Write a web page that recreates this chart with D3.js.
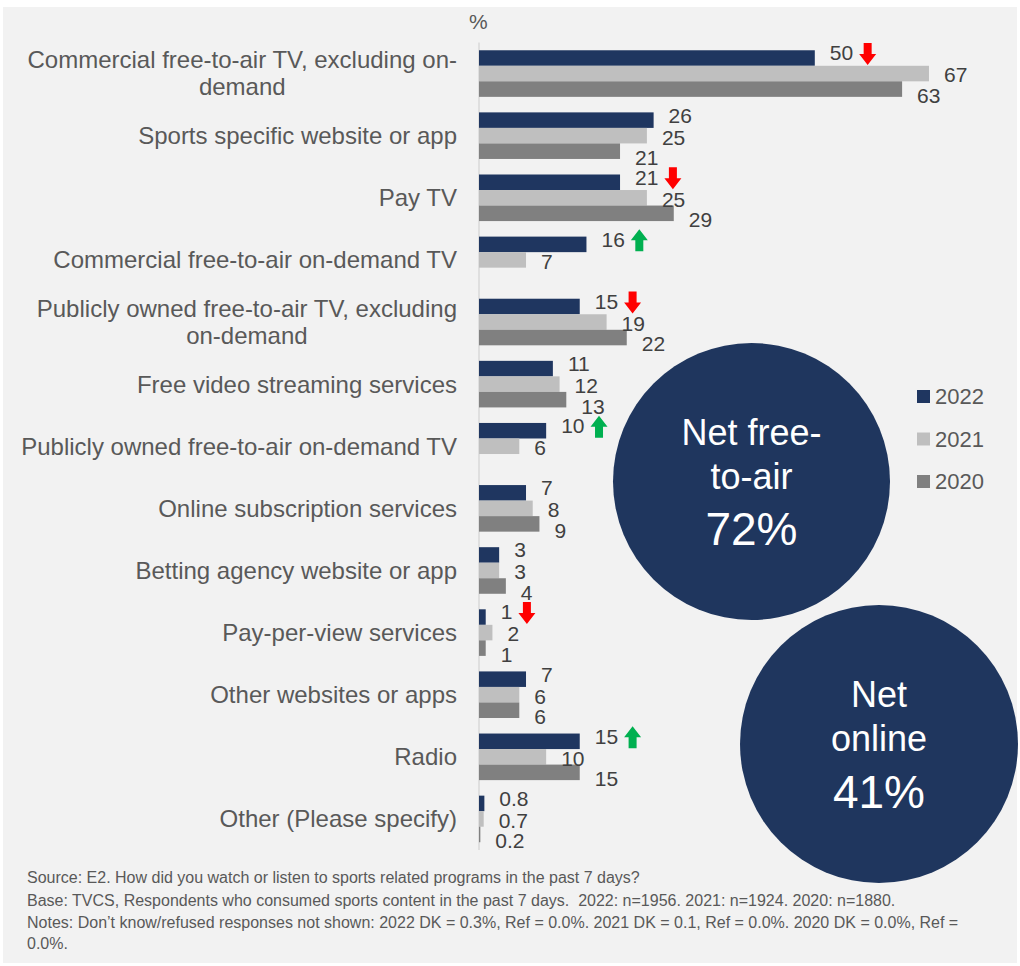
<!DOCTYPE html>
<html>
<head>
<meta charset="utf-8">
<script src="https://cdn.jsdelivr.net/npm/d3@7"></script>
<style>
  html, body { margin: 0; padding: 0; background: #ffffff; }
  svg { display: block; font-family: "Liberation Sans", Arial, sans-serif; }
  .foot { white-space: pre; }
</style>
</head>
<body>
<svg id="chart" width="1020" height="966"></svg>
<script>
const categories = [
  "Commercial free-to-air TV, excluding on-demand",
  "Sports specific website or app",
  "Pay TV",
  "Commercial free-to-air on-demand TV",
  "Publicly owned free-to-air TV, excluding on-demand",
  "Free video streaming services",
  "Publicly owned free-to-air on-demand TV",
  "Online subscription services",
  "Betting agency website or app",
  "Pay-per-view services",
  "Other websites or apps",
  "Radio",
  "Other (Please specify)"
];
const years = ["2022", "2021", "2020"];
const values2022 = [50, 26, 21, 16, 15, 11, 10, 7, 3, 1, 7, 15, 0.8];
const values2021 = [67, 25, 25, 7, 19, 12, 6, 8, 3, 2, 6, 10, 0.7];
const values2020 = [63, 21, 29, null, 22, 13, null, 9, 4, 1, 6, 15, 0.2];
const trend2022 = ["down", null, "down", "up", "down", null, "up", null, null, "down", null, "up", null];
const bubbles = [
  { lines: ["Net free-", "to-air"], value: "72%" },
  { lines: ["Net", "online"], value: "41%" }
];
const footnotes = [
  "Source: E2. How did you watch or listen to sports related programs in the past 7 days?",
  "Base: TVCS, Respondents who consumed sports content in the past 7 days.  2022: n=1956. 2021: n=1924. 2020: n=1880.",
  "Notes: Don\u2019t know/refused responses not shown: 2022 DK = 0.3%, Ref = 0.0%. 2021 DK = 0.1, Ref = 0.0%. 2020 DK = 0.0%, Ref =",
  "0.0%."
];

const seriesByYear = { "2022": values2022, "2021": values2021, "2020": values2020 };
const colors = d3.scaleOrdinal().domain(years).range(["#1f3660", "#bfbfbf", "#808080"]);

const svg = d3.select("#chart");
svg.append("rect").attr("x", 3).attr("y", 7).attr("width", 1014).attr("height", 956).attr("fill", "#f2f2f2");

const x = d3.scaleLinear().domain([0, 100]).range([479, 479 + 671.6]);
const y = d3.scaleBand().domain(categories).range([42.5, 850]).paddingInner(0.25).paddingOuter(0.125);
const ySub = d3.scaleBand().domain(years).range([0, y.bandwidth()]);

// axis line
svg.append("line").attr("x1", 479).attr("x2", 479).attr("y1", 42.5).attr("y2", 850)
  .attr("stroke", "#d9d9d9").attr("stroke-width", 1.5);

svg.append("text").attr("x", 469).attr("y", 29).attr("fill", "#595959")
  .attr("font-size", 21).text("%");

// bars
const rows = categories.map((c, i) => ({ cat: c, i }));
const groups = svg.selectAll("g.cat").data(rows).join("g").attr("class", "cat")
  .attr("transform", d => `translate(0,${y(d.cat)})`);

const labelDy = { "2022": -5, "2021": 1.5, "2020": 6.5 };

groups.each(function (row) {
  const g = d3.select(this);
  const items = years.map(yr => ({ yr, v: seriesByYear[yr][row.i] })).filter(d => d.v !== null);
  g.selectAll("rect").data(items).join("rect")
    .attr("x", x(0))
    .attr("y", d => ySub(d.yr))
    .attr("width", d => x(d.v) - x(0))
    .attr("height", ySub.bandwidth())
    .attr("fill", d => colors(d.yr));
  const labels = g.selectAll("text.val").data(items).join("text").attr("class", "val")
    .attr("x", d => x(d.v) + 15)
    .attr("y", d => ySub(d.yr) + ySub.bandwidth() / 2 + labelDy[d.yr])
    .attr("dy", "0.35em")
    .attr("font-size", 21)
    .attr("fill", "#404040")
    .text(d => String(d.v));
  const t = trend2022[row.i];
  if (t) {
    const lab = labels.filter(d => d.yr === "2022").node();
    const w = lab.getComputedTextLength();
    const cx = x(values2022[row.i]) + 15 + w + 6 + 8.5;
    const cy = ySub("2022") + ySub.bandwidth() / 2 + labelDy["2022"] + 1;
    const s = t === "down" ? 1 : -1;
    const pts = [[-4, -11], [4, -11], [4, 0], [8.5, 0], [0, 11], [-8.5, 0], [-4, 0]]
      .map(p => [cx + p[0], cy + s * p[1]]);
    g.append("path").attr("d", d3.line()(pts) + "Z")
      .attr("fill", t === "down" ? "#ff0000" : "#00b050");
  }
});

// category labels with wrapping
const maxLabelW = 442;
const catFont = 24;
function tokens(str) { return str.match(/[^\s-]+[-]?\s*|\s+/g); }
const measurer = svg.append("text").attr("font-size", catFont).attr("visibility", "hidden");
function width(s) { measurer.text(s.trim()); return measurer.node().getComputedTextLength(); }
rows.forEach(row => {
  const toks = tokens(row.cat);
  const lines = [];
  let cur = "";
  toks.forEach(tk => {
    const test = cur + tk;
    if (cur && width(test) > maxLabelW) { lines.push(cur.trim()); cur = tk; }
    else cur = test;
  });
  if (cur.trim()) lines.push(cur.trim());
  const wmax = d3.max(lines, l => width(l));
  const cy = y(row.cat) + y.bandwidth() / 2;
  const lh = 27;
  const t = svg.append("text").attr("font-size", catFont).attr("fill", "#595959")
    .attr("text-anchor", lines.length > 1 ? "middle" : "end");
  const xPos = lines.length > 1 ? 457 - wmax / 2 : 457;
  lines.forEach((l, k) => {
    t.append("tspan").attr("x", xPos)
      .attr("y", cy + (k - (lines.length - 1) / 2) * lh)
      .attr("dy", "0.35em").text(l);
  });
});
measurer.remove();

// bubbles
const bubblePos = [{ cx: 751.5, cy: 481.5, r: 138.5 }, { cx: 879, cy: 744, r: 139 }];
bubbles.forEach((b, i) => {
  const p = bubblePos[i];
  svg.append("circle").attr("cx", p.cx).attr("cy", p.cy).attr("r", p.r).attr("fill", "#1f365e");
  const t = svg.append("text").attr("fill", "#ffffff").attr("text-anchor", "middle");
  b.lines.forEach((l, k) => {
    t.append("tspan").attr("x", p.cx).attr("y", p.cy - 37 + k * 44).attr("font-size", 36).text(l);
  });
  t.append("tspan").attr("x", p.cx).attr("y", p.cy + 63.5).attr("font-size", 46).text(b.value);
});

// legend
const legend = svg.append("g");
years.forEach((yr, k) => {
  const cy = 396.5 + k * 42.5;
  legend.append("rect").attr("x", 917).attr("y", cy - 6.5).attr("width", 13).attr("height", 13).attr("fill", colors(yr));
  legend.append("text").attr("x", 935).attr("y", cy).attr("dy", "0.35em")
    .attr("font-size", 22).attr("fill", "#595959").text(yr);
});

// footnotes
const fy = [883, 906, 928, 949];
footnotes.forEach((f, k) => {
  svg.append("text").attr("class", "foot").attr("x", 27).attr("y", fy[k]).attr("font-size", 16)
    .attr("fill", "#595959").text(f);
});
</script>
</body>
</html>
